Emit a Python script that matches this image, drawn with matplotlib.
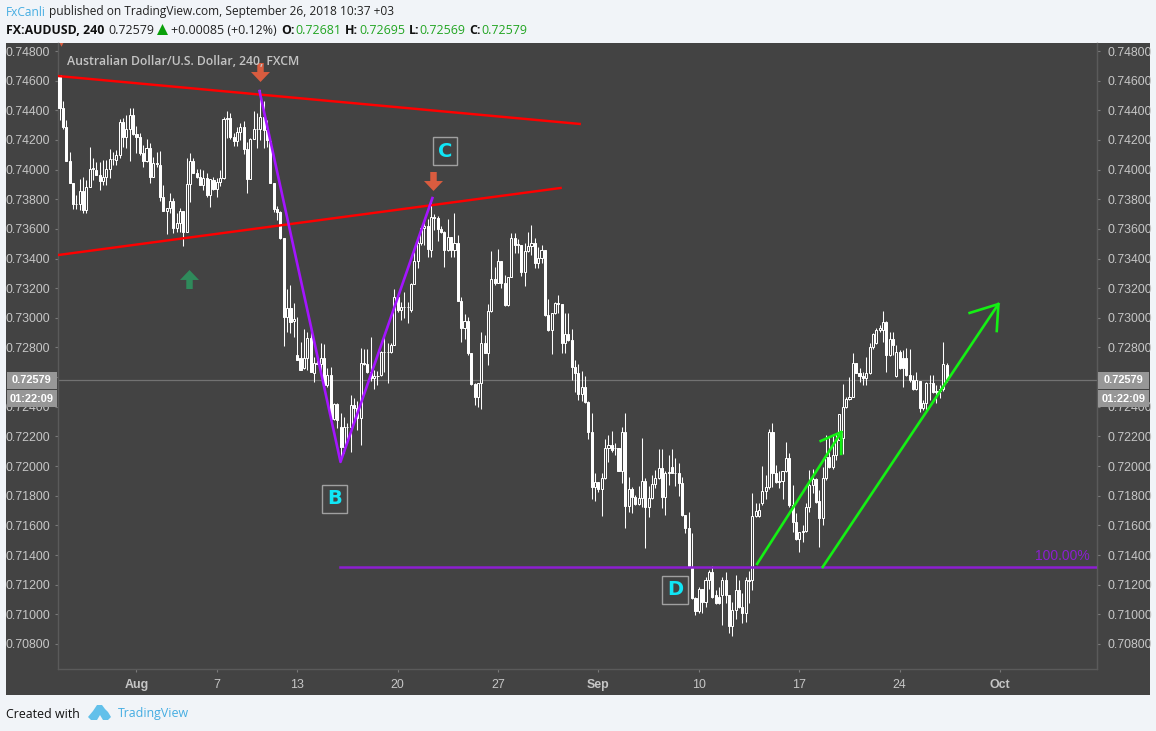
# -*- coding: utf-8 -*-
import matplotlib
matplotlib.use("Agg")
import matplotlib.pyplot as plt
from matplotlib.patches import Rectangle, Polygon
from matplotlib.path import Path
import numpy as np

# prices in 1e-5 units, one entry per 4h candle
opens = [74638,74413,74285,74060,73908,73766,73766,73858,73728,73885,
         74002,74000,73964,73926,73953,74002,74074,74065,74097,74324,
         74222,74272,74366,74238,74222,74114,74060,74144,73953,74035,
         74030,73813,73723,73739,73789,73604,73637,73721,73581,73903,
         74058,73975,73952,73896,73941,73828,73930,73867,73918,73941,
         74339,74345,74220,74195,74256,74285,74136,73939,74204,74276,
         74276,74352,74267,74190,73907,73732,73716,73536,73003,73064,
         72979,72749,72727,72659,72731,72866,72626,72693,72688,72731,
         72547,72614,72315,72419,72261,72131,72266,72266,72412,72390,
         72322,72697,72688,72637,72592,72608,72615,72767,72767,72767,
         72817,73138,73053,73071,73071,73053,73226,73383,73502,73603,
         73619,73458,73678,73671,73597,73582,73458,73548,73458,73507,
         73116,72930,72979,72765,72554,72464,72559,72828,72765,73049,
         73264,73233,73386,73237,73087,73278,73536,73491,73491,73312,
         73453,73485,73503,73372,73402,73458,73019,72918,73031,73103,
         73096,72828,72889,72851,72666,72630,72487,72532,72435,72233,
         71862,71895,71844,71918,72125,72143,72120,72125,71970,72233,
         71731,71844,71794,71745,71783,71902,71727,71783,71880,71918,
         71985,71790,71956,71996,71956,71956,71884,71671,71585,71311,
         71109,71025,71169,71086,71232,71288,71131,71120,71131,71232,
         71131,70922,71030,71165,71052,71007,71232,71231,71663,71663,
         71749,71834,71856,72232,71955,71895,71901,71967,72052,71737,
         71625,71506,71557,71564,71726,71872,71913,71766,71647,71917,
         72063,71996,72075,72176,72186,72401,72450,72468,72693,72630,
         72607,72592,72625,72801,72832,72918,72918,72974,72749,72855,
         72607,72772,72727,72727,72614,72580,72518,72574,72389,72428,
         72558,72563,72502,72509,72518,72681]
closes = [74413,74285,74060,73908,73766,73770,73858,73728,73885,74002,
          74011,73964,73926,73953,74002,74074,74070,74097,74324,74222,
          74272,74366,74238,74222,74114,74060,74144,73953,74043,74043,
          73813,73723,73739,73789,73604,73637,73721,73581,73903,74058,
          73975,73952,73896,73941,73828,73934,73867,73918,73941,74339,
          74345,74217,74195,74256,74285,74136,73939,74204,74276,74276,
          74352,74267,74199,73907,73732,73716,73536,73003,73064,72974,
          72992,72716,72648,72731,72866,72637,72693,72688,72731,72547,
          72614,72315,72419,72311,72131,72266,72266,72412,72390,72322,
          72697,72688,72637,72592,72608,72608,72767,72767,72770,72817,
          73138,73053,73071,73075,73075,73226,73383,73502,73603,73619,
          73462,73678,73671,73597,73582,73458,73548,73458,73507,73116,
          72930,72979,72765,72554,72464,72559,72828,72765,73049,73264,
          73233,73386,73237,73087,73278,73536,73491,73496,73312,73453,
          73485,73503,73372,73402,73458,73019,72918,73031,73103,73096,
          72828,72889,72851,72666,72630,72487,72532,72435,72233,71862,
          71895,71844,71918,72125,72143,72109,72125,71970,72233,71731,
          71844,71794,71745,71783,71902,71727,71783,71880,71918,71985,
          71790,71956,71963,71956,71952,71884,71671,71585,71327,71109,
          71025,71169,71086,71232,71288,71120,71079,71079,71232,71131,
          70922,71030,71165,71052,71007,71232,71225,71663,71699,71704,
          71834,71856,72232,71955,71895,71901,71967,72052,71737,71625,
          71506,71557,71564,71726,71872,71913,71760,71647,71917,72063,
          71996,72075,72176,72351,72401,72450,72468,72693,72630,72607,
          72592,72625,72801,72891,72918,72929,72974,72749,72855,72817,
          72772,72664,72664,72614,72580,72518,72580,72389,72428,72558,
          72563,72502,72509,72518,72688,72579]
highs = [74638,74463,74335,74121,73912,73829,73935,73953,73930,74150,
         74076,74054,74054,74065,74065,74137,74121,74132,74339,74346,
         74369,74413,74413,74294,74245,74166,74204,74177,74083,74121,
         74126,73894,73739,73840,73806,73705,73739,73721,74076,74114,
         74076,74001,74001,73997,73975,73934,73948,73941,73997,74357,
         74397,74379,74249,74289,74316,74330,74188,74211,74397,74379,
         74537,74465,74334,74199,73907,73754,73723,73536,73192,73221,
         73098,73003,72839,72922,72907,72918,72738,72749,72832,72823,
         72659,72671,72423,72423,72360,72333,72288,72479,72457,72441,
         72794,72787,72787,72868,72648,72641,72778,72891,72832,72828,
         73194,73165,73109,73172,73109,73233,73446,73547,73615,73660,
         73664,73795,73701,73687,73620,73588,73665,73548,73705,73559,
         73143,73026,73008,72765,72558,72559,72907,72885,73094,73453,
         73341,73462,73386,73289,73278,73571,73570,73530,73491,73503,
         73581,73626,73536,73480,73491,73458,73125,73031,73109,73154,
         73096,73031,73031,72923,72716,72689,72644,72608,72442,72356,
         71956,71895,71952,72181,72210,72239,72154,72125,72266,72356,
         71925,71857,71805,71866,72188,71918,71866,71940,71974,72113,
         72113,71970,72075,72113,72053,72023,71929,71671,71693,71547,
         71120,71183,71169,71250,71300,71327,71165,71187,71255,71288,
         71131,71086,71266,71232,71142,71255,71295,71816,71753,71749,
         72000,71940,72248,72293,72007,71969,71967,72164,72086,71872,
         71681,71557,71602,71749,71973,71978,71920,71838,71996,72209,
         72198,72216,72225,72351,72554,72464,72603,72760,72697,72659,
         72637,72733,72828,72900,72929,72951,73046,72981,72906,72906,
         72817,72783,72783,72794,72787,72614,72637,72574,72446,72569,
         72614,72614,72547,72547,72834,72695]
lows = [74335,74274,74060,73908,73732,73732,73728,73710,73710,73885,
        73930,73964,73863,73896,73896,73941,74031,74031,74076,74150,
        74144,74060,74234,74110,74099,74020,74054,73908,73953,74020,
        73791,73723,73564,73705,73575,73581,73581,73487,73581,73783,
        73975,73941,73896,73862,73817,73750,73862,73817,73889,73934,
        74211,74204,74159,74159,74199,74105,73840,73934,74204,74143,
        74199,74143,74154,73907,73716,73660,73530,72810,72907,72895,
        72869,72716,72648,72652,72648,72637,72569,72688,72637,72536,
        72536,72315,72311,72255,72064,72086,72154,72097,72311,72243,
        72142,72684,72626,72576,72518,72547,72608,72637,72558,72765,
        72817,73041,72985,72997,72967,73041,73226,73334,73491,73491,
        73412,73413,73593,73521,73575,73345,73454,73413,73413,73116,
        72840,72855,72750,72547,72412,72397,72383,72760,72682,73042,
        73222,73233,73199,73080,73080,73275,73440,73440,73282,73215,
        73446,73424,73334,73334,73368,73013,72914,72756,73026,73031,
        72761,72761,72846,72581,72502,72446,72442,72428,72181,71776,
        71767,71828,71664,71911,72030,72098,72075,71964,71884,71581,
        71693,71686,71740,71736,71727,71450,71659,71776,71850,71911,
        71716,71671,71873,71952,71866,71799,71664,71551,71327,71104,
        70996,71007,71007,71052,71169,71109,71072,71072,70929,71075,
        70873,70855,70967,71040,70944,70951,71075,71163,71659,71659,
        71737,71775,71845,71856,71888,71850,71776,71960,71726,71557,
        71502,71423,71490,71557,71692,71816,71753,71452,71602,71905,
        71985,71978,72041,72176,72081,72389,72446,72464,72630,72569,
        72547,72547,72620,72792,72823,72906,72839,72637,72742,72749,
        72603,72656,72536,72605,72569,72511,72511,72367,72378,72378,
        72446,72495,72423,72457,72509,72569]

price_ticks = [0.748, 0.746, 0.744, 0.742, 0.740, 0.738, 0.736, 0.734, 0.732, 0.730, 0.728,
               0.726, 0.724, 0.722, 0.720, 0.718, 0.716, 0.714, 0.712, 0.710, 0.708]
date_ticks = [23, 47, 71, 101, 131, 161, 191, 221, 251, 281]
date_labels = ["Aug", "7", "13", "20", "27", "Sep", "10", "17", "24", "Oct"]
last_price = 0.72579

# drawings on the chart, as (candle index, price)
red_top = ([-0.3, 155.4], [0.74631, 0.74308])
red_bottom = ([-0.3, 149.7], [0.73424, 0.73876])
abc_x = [59.75, 83.95, 111.4]
abc_y = [0.74530, 0.72028, 0.73808]
level_x = [83.7, 309.95]
level_y = [0.71319, 0.71319]
green_1 = ([208.4, 233.6], [0.71340, 0.72230])
green_1_head = ([227.4, 233.6, 233.5], [0.72169, 0.72230, 0.72082])
green_2 = ([228.0, 280.5], [0.71319, 0.73093])
green_2_head = ([271.9, 280.5, 280.0], [0.73033, 0.73093, 0.72911])
down_arrows = ([59.75, 111.7], [0.74658, 0.73923])
up_arrow = ([38.8], [0.73262])
corner_mark = ([0.4], [0.74856])
wave_labels = [("C", 115.3, 0.74125), ("B", 82.2, 0.71778), ("D", 184.0, 0.71164)]

W, H = 1156, 731
BG = "#f1f4f8"
PANEL = "#434343"
AXC = "#5a5a5a"
TXT = "#c6c6c6"
GREEN = "#14f014"


def fx(x):
    return x / W


def fy(y):
    return 1 - y / H


fig = plt.figure(figsize=(W / 100, H / 100), dpi=100, facecolor=BG)
plt.rcParams["font.family"] = ["Liberation Sans", "DejaVu Sans"]

fig.patches.append(Rectangle((fx(6), fy(695)), fx(1144), 652 / H, transform=fig.transFigure,
                             facecolor=PANEL, edgecolor="none", zorder=-5))

ax = fig.add_axes([fx(58), fy(669), fx(1039), 626 / H])
ax.set_facecolor(PANEL)
ax.set_xlim(-0.45, 309.95)
ax.set_ylim(0.70631, 0.74854)

o = np.array(opens) / 1e5
c = np.array(closes) / 1e5
h = np.array(highs) / 1e5
l = np.array(lows) / 1e5
idx = np.arange(len(o))
up = c >= o

ax.axhline(last_price, color="#727272", lw=0.9, zorder=1)
ax.vlines(idx, l, h, color="white", lw=0.75, zorder=2)
ax.bar(idx[up], (c - o)[up], bottom=o[up], width=0.62, facecolor=PANEL, edgecolor="white", lw=0.72, zorder=3)
ax.bar(idx[~up], (o - c)[~up], bottom=c[~up], width=0.62, facecolor="white", edgecolor="white", lw=0.72, zorder=3)

ax.plot(*red_top, color="#ff0000", lw=1.75, zorder=4)
ax.plot(*red_bottom, color="#ff0000", lw=1.75, zorder=4)
ax.plot(abc_x, abc_y, color="#a414ff", lw=1.9, zorder=5)
ax.plot(level_x, level_y, color="#8c1fd0", lw=1.8, zorder=4)
ax.plot(*green_1, color=GREEN, lw=1.9, zorder=5)
ax.plot(*green_1_head, color=GREEN, lw=1.9, zorder=5)
ax.plot(*green_2, color=GREEN, lw=1.9, zorder=5)
ax.plot(*green_2_head, color=GREEN, lw=1.9, zorder=5)
ax.text(307.7, 0.71345, "100.00%", color="#8c1fd0", fontsize=10, ha="right", va="bottom", zorder=5)

arrow = Path([(-0.34, 1), (0.34, 1), (0.34, 0.05), (1, 0.05), (0, -1), (-1, 0.05), (-0.34, 0.05), (-0.34, 1)], closed=True)
ax.scatter(*down_arrows, marker=arrow, s=187, color="#d95c3f", linewidths=0, zorder=6)
arrow_up = Path([(-0.34, -1), (0.34, -1), (0.34, -0.05), (1, -0.05), (0, 1), (-1, -0.05), (-0.34, -0.05), (-0.34, -1)], closed=True)
ax.scatter(*up_arrow, marker=arrow_up, s=187, color="#2f8a5b", linewidths=0, zorder=6)
ax.scatter(*corner_mark, marker="v", s=22, color="#d95c3f", linewidths=0, zorder=6)

for name, xv, yv in wave_labels:
    ax.text(xv, yv, name, color="#10e6f6", fontsize=14, fontweight="bold", ha="center", va="center", zorder=7,
            family=["DejaVu Sans"],
            bbox=dict(boxstyle="square,pad=0.25", facecolor=PANEL, edgecolor="#a0a0a0", lw=1.0))

ax.text(0.0085, 0.970, "Australian Dollar/U.S. Dollar, 240, FXCM", transform=ax.transAxes, color="#c4c4c4",
        fontsize=8.87, family=["Open Sans"], fontweight="semibold", va="center", zorder=7)

# the 0.72600 label sits hidden behind the last price box
y_labels = ["" if abs(p - 0.726) < 1e-6 else "%.5f" % p for p in price_ticks]
ax.set_yticks(price_ticks)
ax.set_yticklabels(y_labels)
ax.set_xticks(date_ticks)
ax.set_xticklabels(date_labels)
ax.tick_params(axis="y", length=2.5, width=0.8, color="#7a7a7a", labelcolor=TXT, labelsize=8.9, pad=3.2)
ax.tick_params(axis="x", length=2.5, width=0.8, color="#7a7a7a", labelcolor=TXT, labelsize=8.9, pad=5)
for t, s in zip(ax.get_xticklabels(), date_labels):
    if s in ("Aug", "Sep", "Oct"):
        t.set_fontweight("bold")

sec = ax.secondary_yaxis("right")
sec.set_yticks(price_ticks)
sec.set_yticklabels(y_labels)
sec.tick_params(axis="y", length=2.5, width=0.8, color="#7a7a7a", labelcolor=TXT, labelsize=8.9, pad=5.4)
sec.spines["right"].set_color(AXC)

ax.spines["top"].set_visible(False)
for s in ("left", "right", "bottom"):
    ax.spines[s].set_color(AXC)
    ax.spines[s].set_linewidth(1.0)

# price and countdown boxes on both sides
for x0, x1 in ((7, 57), (1098, 1149)):
    for y0, y1, s, in ((372, 389, "0.72579"), (390, 407, "01:22:09")):
        fig.patches.append(Rectangle((fx(x0), fy(y1)), fx(x1 - x0), (y1 - y0) / H, transform=fig.transFigure,
                                     facecolor="#979797", edgecolor="none", zorder=8))
        fig.text(fx((x0 + x1) / 2), fy((y0 + y1) / 2), s, color="white", fontsize=7.9, fontweight="bold",
                 ha="center", va="center", zorder=9, family=["Liberation Sans"])

# header
head = ["Open Sans", "DejaVu Sans"]
fig.text(fx(6), fy(12), "FxCanli", color="#45ade2", fontsize=8.6, va="center", family=head)
fig.text(fx(49), fy(12), "published on TradingView.com, September 26, 2018 10:37 +03", color="#222222",
         fontsize=8.6, va="center", family=head)
fig.text(fx(6), fy(30), "FX:AUDUSD, 240", color="#111111", fontsize=8.9, fontweight="bold", va="center", family=head)
fig.text(fx(108), fy(30), "0.72579", color="#222222", fontsize=8.9, va="center", family=head)
fig.patches.append(Polygon([(fx(157), fy(35)), (fx(168), fy(35)), (fx(162.5), fy(24))], closed=True,
                           transform=fig.transFigure, facecolor="#0aa00a", edgecolor="none"))
fig.text(fx(171), fy(30), "+0.00085 (+0.12%)", color="#222222", fontsize=8.9, va="center", family=head)
for xl, lab, xv, val in ((281, "O:", 295, "0.72681"), (345, "H:", 359, "0.72695"),
                         (409, "L:", 419, "0.72569"), (469, "C:", 481, "0.72579")):
    fig.text(fx(xl), fy(30), lab, color="#111111", fontsize=8.9, fontweight="bold", va="center", family=head)
    fig.text(fx(xv), fy(30), val, color="#22a522", fontsize=8.9, va="center", family=head)

# footer
fig.text(fx(6), fy(714), "Created with", color="#111111", fontsize=8.9, va="center", family=head)
fig.text(fx(118), fy(714), "TradingView", color="#45ade2", fontsize=8.9, va="center", family=head)
logo_a = [(88, 717), (93, 711), (97, 705), (102, 705), (105, 709), (108, 712), (111, 717), (108, 720),
          (103, 720), (100, 715), (97, 720), (91, 720)]
fig.patches.append(Polygon([(fx(a), fy(b)) for a, b in logo_a], closed=True, transform=fig.transFigure,
                           facecolor="#62c0ea", edgecolor="none"))

fig.savefig("out.png", dpi=100, facecolor=BG)
